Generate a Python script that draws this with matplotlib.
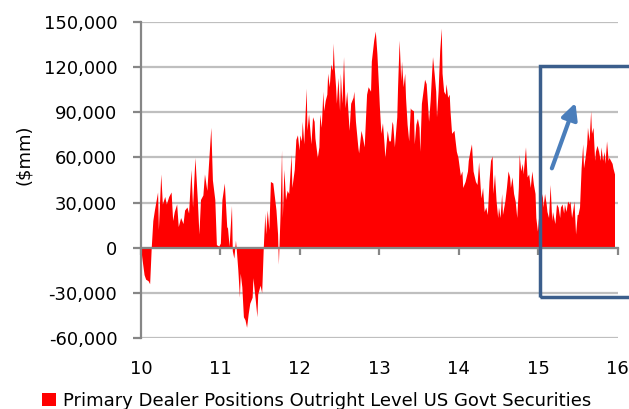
import numpy as np
import matplotlib.pyplot as plt
from matplotlib.patches import Rectangle
from matplotlib.ticker import FuncFormatter

plt.rcParams['font.family'] = ['DejaVu Sans']

# year (decimal) and dealer positions in $bn (thousands of $mm)
year = [10.00, 10.01, 10.04, 10.06, 10.09, 10.11, 10.13, 10.15, 10.17, 10.21,
        10.22, 10.25, 10.27, 10.30, 10.32, 10.35, 10.38, 10.40, 10.42, 10.45,
        10.47, 10.50, 10.53, 10.55, 10.58, 10.60, 10.63, 10.65, 10.68, 10.71,
        10.73, 10.75, 10.78, 10.80, 10.83, 10.85, 10.88, 10.90, 10.93, 10.95,
        10.98,
        11.00, 11.02, 11.05, 11.08, 11.09, 11.11, 11.14, 11.15, 11.17, 11.19,
        11.20, 11.22, 11.24, 11.25, 11.27, 11.29, 11.31, 11.33, 11.35, 11.37,
        11.40, 11.41, 11.44, 11.46, 11.47, 11.50, 11.52, 11.54, 11.56, 11.57,
        11.59, 11.61, 11.63, 11.66, 11.68, 11.70, 11.72, 11.73, 11.75, 11.77,
        11.78, 11.80, 11.82, 11.84, 11.86, 11.89, 11.90, 11.93, 11.95, 11.97,
        11.99,
        12.00, 12.02, 12.03, 12.05, 12.08, 12.09, 12.11, 12.14, 12.16, 12.18,
        12.19, 12.22, 12.24, 12.25, 12.27, 12.29, 12.30, 12.32, 12.34, 12.35,
        12.37, 12.39, 12.41, 12.42, 12.43, 12.45, 12.46, 12.48, 12.50, 12.51,
        12.53, 12.55, 12.57, 12.59, 12.62, 12.64, 12.67, 12.68, 12.70, 12.73,
        12.74, 12.77, 12.79, 12.81, 12.84, 12.86, 12.89, 12.90, 12.93, 12.95,
        12.97, 12.99,
        13.00, 13.02, 13.04, 13.06, 13.07, 13.10, 13.12, 13.14, 13.16, 13.17,
        13.19, 13.22, 13.23, 13.25, 13.27, 13.28, 13.30, 13.32, 13.33, 13.35,
        13.37, 13.39, 13.40, 13.43, 13.44, 13.46, 13.48, 13.50, 13.51, 13.53,
        13.55, 13.57, 13.59, 13.61, 13.62, 13.64, 13.66, 13.67, 13.69, 13.71,
        13.72, 13.74, 13.76, 13.78, 13.79, 13.81, 13.83, 13.84, 13.86, 13.88,
        13.89, 13.91, 13.94, 13.95, 13.97, 13.99,
        14.02, 14.04, 14.05, 14.08, 14.11, 14.12, 14.14, 14.16, 14.18, 14.21,
        14.23, 14.25, 14.27, 14.28, 14.30, 14.32, 14.34, 14.36, 14.38, 14.40,
        14.42, 14.43, 14.45, 14.47, 14.49, 14.50, 14.52, 14.54, 14.55, 14.58,
        14.60, 14.62, 14.64, 14.65, 14.67, 14.69, 14.71, 14.73, 14.75, 14.76,
        14.78, 14.80, 14.81, 14.84, 14.86, 14.88, 14.90, 14.92, 14.94, 14.96,
        14.97, 14.99,
        15.00, 15.02, 15.05, 15.06, 15.08, 15.10, 15.11, 15.13, 15.15, 15.17,
        15.18, 15.21, 15.23, 15.25, 15.27, 15.28, 15.30, 15.32, 15.33, 15.35,
        15.37, 15.39, 15.40, 15.42, 15.44, 15.45, 15.47, 15.49, 15.50, 15.52,
        15.54, 15.56, 15.57, 15.59, 15.61, 15.62, 15.64, 15.66, 15.67, 15.69,
        15.71, 15.72, 15.74, 15.76, 15.78, 15.79, 15.81, 15.83, 15.84, 15.86,
        15.88, 15.89, 15.91, 15.93, 15.94, 15.96]
position = [0, -6, -18, -21, -22, -24, 0, 18, 25, 37,
            12, 49, 29, 34, 29, 34, 37, 18, 24, 29,
            14, 20, 16, 25, 27, 23, 52, 27, 60, 32,
            9, 32, 35, 49, 38, 55, 80, 45, 32, 2,
            1,
            3, 32, 43, 14, 13, 1, 28, -2, -7, 5,
            -1, -15, -33, -17, -26, -46, -48, -53, -44, -37,
            -33, -20, -35, -46, -31, -25, -30, 0, 23, 9,
            25, 12, 44, 43, 34, 25, 9, -11, 20, 65,
            20, 52, 32, 38, 36, 62, 40, 52, 72, 75,
            65,
            75, 71, 84, 69, 106, 78, 89, 69, 87, 84,
            73, 60, 67, 89, 80, 104, 91, 98, 102, 116,
            107, 122, 118, 136, 122, 107, 96, 113, 91, 116,
            96, 127, 93, 104, 78, 96, 100, 104, 84, 67,
            63, 78, 73, 67, 102, 107, 104, 124, 138, 144,
            129, 107,
            95, 76, 83, 69, 60, 78, 71, 71, 84, 82,
            67, 87, 107, 138, 111, 124, 107, 116, 100, 82,
            71, 93, 92, 91, 69, 82, 86, 80, 64, 96,
            104, 112, 109, 93, 84, 98, 118, 127, 116, 104,
            87, 104, 131, 146, 116, 104, 102, 109, 100, 102,
            91, 76, 78, 73, 64, 60,
            48, 51, 40, 44, 51, 58, 64, 69, 51, 44,
            42, 57, 40, 33, 40, 24, 27, 22, 44, 58,
            61, 36, 49, 31, 20, 27, 20, 36, 22, 31,
            40, 51, 47, 40, 47, 36, 31, 20, 40, 62,
            51, 56, 49, 67, 47, 49, 40, 51, 42, 36,
            20, 11,
            18, 27, 36, 27, 36, 29, 24, 20, 42, 18,
            24, 16, 29, 27, 20, 27, 29, 23, 29, 24,
            31, 29, 31, 20, 27, 31, 9, 22, 22, 27,
            53, 69, 53, 60, 69, 80, 71, 91, 76, 80,
            58, 64, 68, 64, 58, 67, 58, 64, 56, 71,
            58, 60, 58, 56, 53, 49]

x_ticks = [10, 11, 12, 13, 14, 15, 16]
y_ticks = [-60000, -30000, 0, 30000, 60000, 90000, 120000, 150000]
series_name = 'Primary Dealer Positions Outright Level US Govt Securities'

x = np.array(year)
y = np.array(position) * 1000

fig = plt.figure(figsize=(6.29, 4.09), dpi=100)
ax = fig.add_axes([0.224, 0.174, 0.758, 0.772])

ax.fill_between(x, y, 0, color='#FF0000', lw=0, interpolate=True, label=series_name)

ax.set_xlim(10, 16)
ax.set_ylim(-60000, 150000)
ax.set_yticks(y_ticks)
ax.yaxis.set_major_formatter(FuncFormatter(lambda v, p: f'{v:,.0f}'))
ax.set_xticks(x_ticks)
ax.grid(axis='y', color='#BFBFBF', lw=1.6)
ax.set_axisbelow(True)

ax.spines['top'].set_visible(False)
ax.spines['right'].set_visible(False)
ax.spines['left'].set_color('#868686')
ax.spines['left'].set_linewidth(1.6)
ax.spines['bottom'].set_position(('data', 0))
ax.spines['bottom'].set_color('#868686')
ax.spines['bottom'].set_linewidth(1.6)

ax.tick_params(axis='y', length=6, width=1.6, color='#868686', pad=11, labelsize=13)
ax.tick_params(axis='x', length=5, width=1.6, color='#868686', labelbottom=False)

# x labels sit at the bottom, tick marks stay on the zero line
sec = ax.secondary_xaxis('bottom')
sec.set_xticks(x_ticks)
sec.tick_params(length=0, pad=16, labelsize=13)
sec.spines['bottom'].set_visible(False)

ax.set_ylabel('($mm)', fontsize=13)
ax.yaxis.set_label_coords(-0.227, 0.579)

# highlight box + arrow
box = Rectangle((15.02, -32800), 1.5, 153500, fill=False, ec='#3B5E8C', lw=2.5, clip_on=False, zorder=5)
ax.add_patch(box)
ax.annotate('', xy=(15.48, 98000), xytext=(15.16, 51000),
            arrowprops=dict(arrowstyle='-|>', color='#4A7EBB', lw=3, mutation_scale=24))

fig.legend(loc='center left', bbox_to_anchor=(42 / 629, 1 - 401 / 409), frameon=False,
           handlelength=0.75, handleheight=0.75, handletextpad=0.4,
           borderpad=0, borderaxespad=0, fontsize=13)

fig.savefig('out.png', dpi=100)
